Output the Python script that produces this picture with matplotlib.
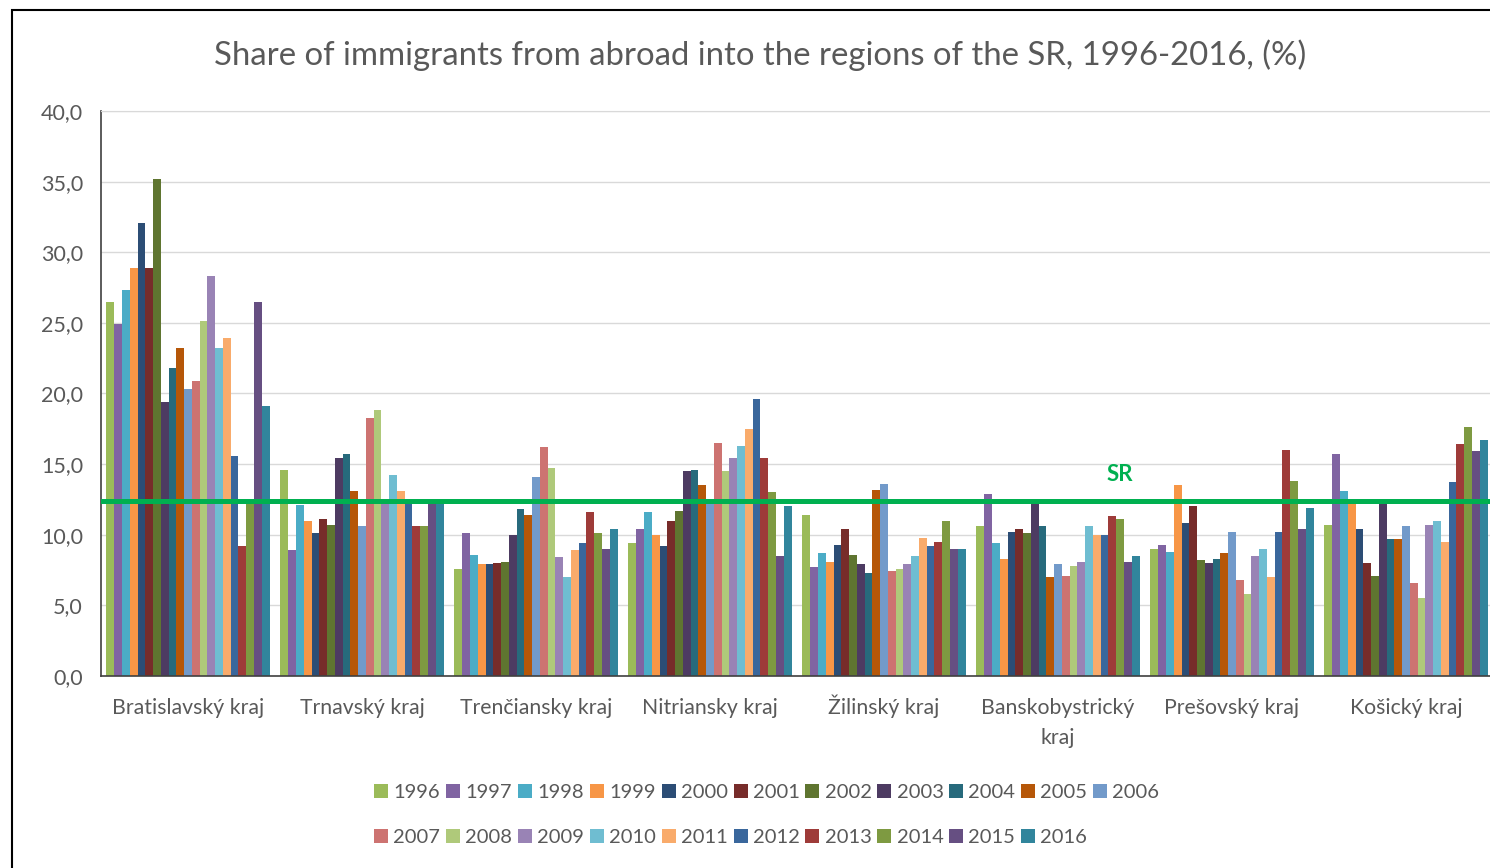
import numpy as np
import matplotlib.pyplot as plt
import matplotlib.transforms as mtransforms
from matplotlib.patches import Rectangle

plt.rcParams['font.family'] = ['Lato', 'DejaVu Sans']

# regions on the x axis
regions = ['Bratislavský kraj', 'Trnavský kraj', 'Trenčiansky kraj', 'Nitriansky kraj',
           'Žilinský kraj', 'Banskobystrický\nkraj', 'Prešovský kraj', 'Košický kraj']
years = [str(y) for y in range(1996, 2017)]

# share of immigrants (%) per region, 1996..2016
bratislava = [26.5, 24.9, 27.3, 28.9, 32.1, 28.9, 35.2, 19.4, 21.8, 23.2, 20.3,
              20.9, 25.1, 28.3, 23.2, 23.9, 15.6, 9.2, 12.3, 26.5, 19.1]
trnava = [14.6, 8.9, 12.1, 11.0, 10.1, 11.1, 10.7, 15.4, 15.7, 13.1, 10.6,
          18.3, 18.8, 12.2, 14.2, 13.1, 12.2, 10.6, 10.6, 12.3, 12.3]
trencin = [7.6, 10.1, 8.6, 7.9, 7.9, 8.0, 8.1, 10.0, 11.8, 11.4, 14.1,
           16.2, 14.7, 8.4, 7.0, 8.9, 9.4, 11.6, 10.1, 9.0, 10.4]
nitra = [9.4, 10.4, 11.6, 10.0, 9.2, 11.0, 11.7, 14.5, 14.6, 13.5, 12.3,
         16.5, 14.5, 15.4, 16.3, 17.5, 19.6, 15.4, 13.0, 8.5, 12.0]
zilina = [11.4, 7.7, 8.7, 8.1, 9.3, 10.4, 8.6, 7.9, 7.3, 13.2, 13.6,
          7.4, 7.6, 7.9, 8.5, 9.8, 9.2, 9.5, 11.0, 9.0, 9.0]
banska = [10.6, 12.9, 9.4, 8.3, 10.2, 10.4, 10.1, 12.2, 10.6, 7.0, 7.9,
          7.1, 7.8, 8.1, 10.6, 10.0, 10.0, 11.3, 11.1, 8.1, 8.5]
presov = [9.0, 9.3, 8.8, 13.5, 10.8, 12.0, 8.2, 8.0, 8.3, 8.7, 10.2,
          6.8, 5.8, 8.5, 9.0, 7.0, 10.2, 16.0, 13.8, 10.4, 11.9]
kosice = [10.7, 15.7, 13.1, 12.2, 10.4, 8.0, 7.1, 12.2, 9.7, 9.7, 10.6,
          6.6, 5.5, 10.7, 11.0, 9.5, 13.7, 16.4, 17.6, 15.9, 16.7]
sr_avg = 12.4

colors = ['#9BBB59', '#8064A2', '#4BACC6', '#F79646', '#2C4D75', '#772C2A', '#5F7530',
          '#4D3B62', '#276A7C', '#B65708', '#729ACA', '#CD7371', '#AFC97A', '#9983B5',
          '#6FBDD1', '#F9AB6B', '#3A679C', '#9E3B39', '#7E9A41', '#664F82', '#31859C']

data = np.array([bratislava, trnava, trencin, nitra, zilina, banska, presov, kosice])
gray = '#595959'

fig = plt.figure(figsize=(14.9, 8.68), dpi=100)
ax = fig.add_axes([101 / 1490, 1 - 676 / 868, 1392 / 1490, 565 / 868])

n = len(years)
w = 0.937 / n
x = np.arange(len(regions))
handles = []
for j in range(n):
    b = ax.bar(x - 0.937 / 2 + (j + 0.5) * w, data[:, j], width=w,
               color=colors[j], label=years[j], zorder=2)
    handles.append(b)

ax.axhline(sr_avg, color='#00B050', lw=3.6, zorder=4)
ax.text(5.356, 14.3, 'SR', color='#00B050', fontsize=16, fontweight='bold',
        ha='center', va='center')

ax.set_xlim(-0.5, 7.5)
ax.set_ylim(0, 40)
ax.set_yticks(np.arange(0, 41, 5))
ax.set_yticklabels([f'{v:.1f}'.replace('.', ',') for v in np.arange(0, 41, 5)])
ax.set_xticks(x)
ax.set_xticklabels(regions, linespacing=1.6)
ax.tick_params(axis='y', length=0, pad=13, labelsize=15.5, labelcolor=gray)
ax.tick_params(axis='x', length=0, pad=16, labelsize=15.3, labelcolor=gray)
ax.grid(axis='y', color='#d9d9d9', lw=1, zorder=0)
for s in ['left', 'bottom']:
    ax.spines[s].set_color('#404040')
    ax.spines[s].set_linewidth(1.2)
ax.spines['top'].set_color('#d9d9d9')
ax.spines['right'].set_visible(False)

# the caron on Ž pushes that label down; lift it back onto the common baseline
lift = mtransforms.ScaledTranslation(0, 4 / 100, fig.dpi_scale_trans)
for lab in ax.get_xticklabels():
    if lab.get_text().startswith('Ž'):
        lab.set_transform(lab.get_transform() + lift)

fig.text(760 / 1490, 1 - 55 / 868, 'Share of immigrants from abroad into the regions of the SR, 1996-2016, (%)',
         ha='center', va='center', fontsize=23.7, color=gray)

# row-major order for a two-row legend
order = []
for c in range(11):
    order.append(c)
    if c + 11 < n:
        order.append(c + 11)
fig.legend([handles[i] for i in order], [years[i] for i in order], ncol=11,
           loc='upper left', bbox_to_anchor=(364 / 1490, 1 - 774 / 868), frameon=False,
           fontsize=14.5, labelcolor=gray, handlelength=0.7, handleheight=0.7,
           handletextpad=0.25, columnspacing=0.29, labelspacing=1.4, borderpad=0)

fig.patches.append(Rectangle((12 / 1490, -0.1), 1.2, 1.1 - 10 / 868, transform=fig.transFigure,
                             fill=False, edgecolor='black', lw=1.5))

fig.savefig('out.png', dpi=100)
